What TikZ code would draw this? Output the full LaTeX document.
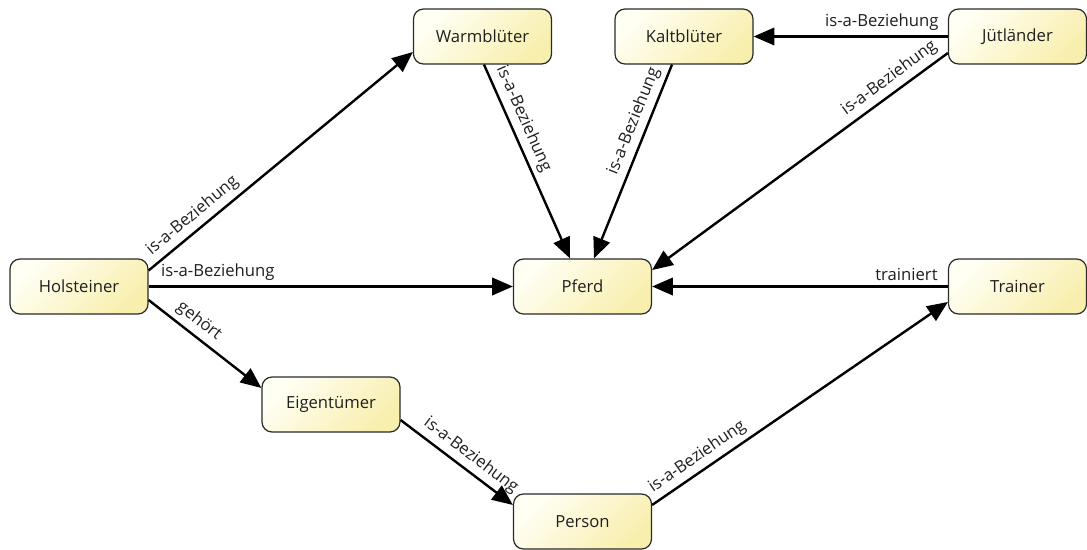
\documentclass[tikz,border=0pt]{standalone}
\usepackage{fontspec}
\setmainfont{Open Sans}
\usetikzlibrary{arrows.meta,calc}

\definecolor{boxlight}{HTML}{FFFFF4}
\definecolor{boxdark}{HTML}{F8EFAE}
\definecolor{boxline}{HTML}{2A2A2A}

\tikzset{
  concept/.style={draw=boxline, line width=0.9pt, rounded corners=7.5pt,
    top color=boxlight, bottom color=boxdark, shading angle=45,
    minimum width=103.5pt, minimum height=41.25pt, inner sep=0pt,
    font=\fontsize{12.5}{15}\selectfont, text=black!88},
  rel/.style={line width=1.8pt, -{Triangle[length=15.5pt,width=13pt]}},
  lbl/.style={font=\fontsize{12.5}{15}\selectfont, text=black!88, sloped, above, inner sep=3.5pt}
}

\begin{document}
\begin{tikzpicture}[x=0.75pt, y=-0.75pt]
  \useasboundingbox (0,0) rectangle (1087,549);

  % concepts
  \node[concept] (hol)   at (79,286.5)   {Holsteiner};
  \node[concept] (warm)  at (482.5,36.5) {Warmblüter};
  \node[concept] (kalt)  at (684,36.5)   {Kaltblüter};
  \node[concept] (jut)   at (1017.5,36.5){Jütländer};
  \node[concept] (pferd) at (582.5,286.5){Pferd};
  \node[concept] (train) at (1017.5,286.5){Trainer};
  \node[concept] (eig)   at (331,404.5)  {Eigentümer};
  \node[concept] (pers)  at (582.5,521.5){Person};

  % relations
  \draw[rel] ($(hol.east)+(0,-16)$) -- node[lbl, pos=0.2] {is-a-Beziehung} ($(warm.west)+(0,15.5)$);
  \draw[rel] (hol.east) -- node[lbl, pos=0.19] {is-a-Beziehung} (pferd.west);
  \draw[rel] ($(hol.east)+(0,13.5)$) -- node[lbl, pos=0.37] {gehört} ($(eig.west)+(0,-16.5)$);
  \draw[rel] ($(warm.south)+(1.5,0)$) -- node[lbl, pos=0.31] {is-a-Beziehung} ($(pferd.north)+(-12.5,0)$);
  \draw[rel] ($(kalt.south)+(-12,0)$) -- node[lbl, pos=0.32] {is-a-Beziehung} ($(pferd.north)+(11.5,0)$);
  \draw[rel] (jut.west) -- node[lbl, pos=0.34] {is-a-Beziehung} (kalt.east);
  \draw[rel] ($(jut.west)+(0,16.5)$) -- node[lbl, pos=0.17] {is-a-Beziehung} ($(pferd.east)+(0,-16.5)$);
  \draw[rel] (train.west) -- node[lbl, pos=0.14] {trainiert} (pferd.east);
  \draw[rel] ($(eig.east)+(0,15.5)$) -- node[lbl, pos=0.55] {is-a-Beziehung} ($(pers.west)+(0,-16.5)$);
  \draw[rel] ($(pers.east)+(0,-16.5)$) -- node[lbl, pos=0.18] {is-a-Beziehung} ($(train.west)+(0,15.5)$);
\end{tikzpicture}
\end{document}
